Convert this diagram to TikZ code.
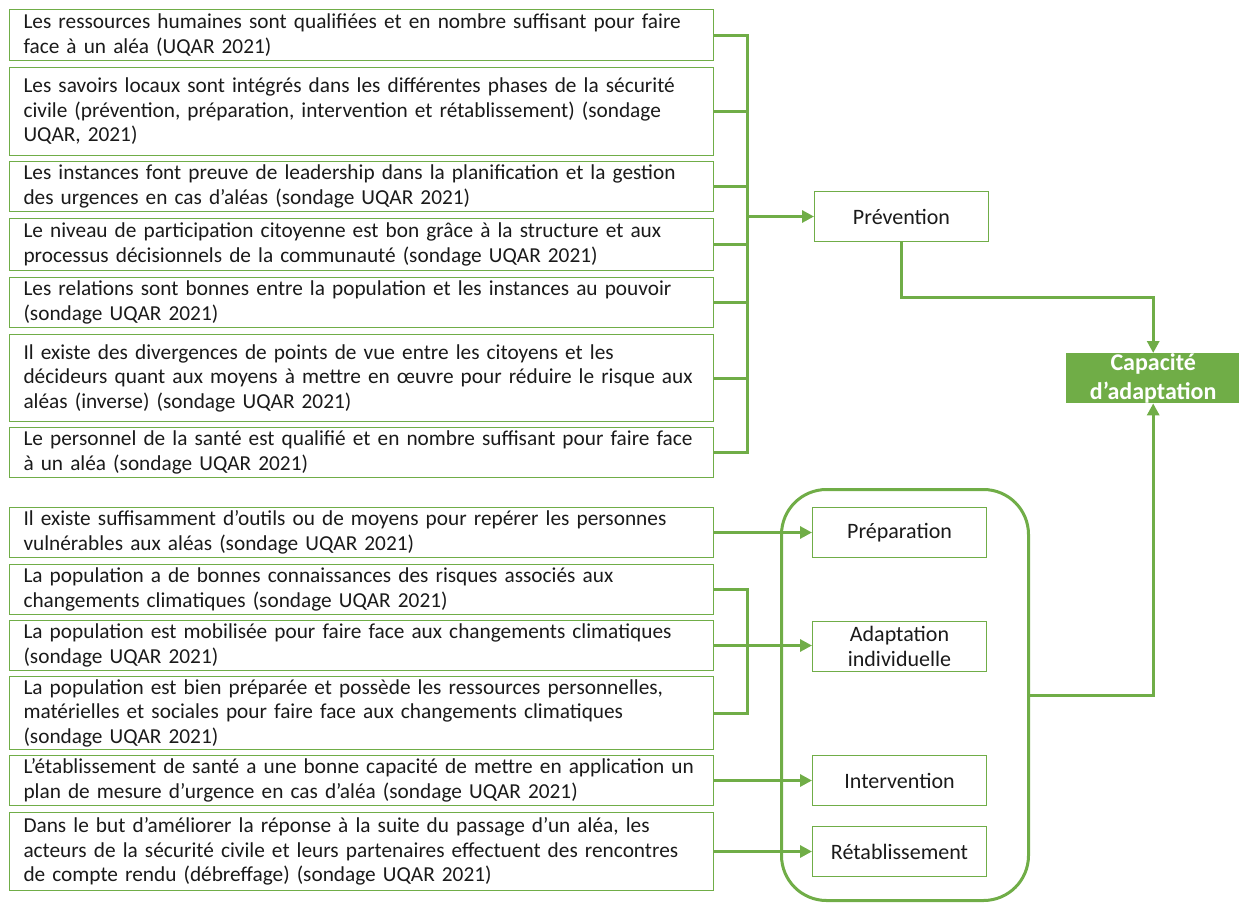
\documentclass[tikz,border=0pt]{standalone}
\usepackage{fontspec}
\setmainfont{Carlito}
\usetikzlibrary{arrows.meta}
\definecolor{ogreen}{HTML}{70AD47}
\definecolor{txt}{HTML}{1A1A1A}
\newcommand{\itemfont}{\fontsize{21.3}{24.5}\selectfont}
\newcommand{\phasefont}{\fontsize{22}{25}\selectfont}
\begin{document}
\begin{tikzpicture}[x=1pt,y=-1pt,
  item/.style={draw=ogreen, line width=1pt, anchor=north west, minimum width=704pt,
    text width=676pt, align=left, inner xsep=14pt, inner ysep=0pt, font=\itemfont, text=txt},
  phase/.style={draw=ogreen, line width=1pt, anchor=north west, minimum width=174pt,
    minimum height=50pt, align=center, inner sep=0pt, font=\phasefont, text=txt},
  link/.style={draw=ogreen, line width=3pt},
  arr/.style={link, -{Triangle[length=12pt,width=12pt]}}]
\useasboundingbox (0,0) rectangle (1239,902);
% left boxes, upper group
\node[item, minimum height=51pt] (b1) at (9,9) {\mbox{Les ressources humaines sont qualifiées et en nombre suffisant pour faire}\\\mbox{face à un aléa (UQAR 2021)}};
\node[item, minimum height=88pt] (b2) at (9,67) {\mbox{Les savoirs locaux sont intégrés dans les différentes phases de la sécurité}\\\mbox{civile (prévention, préparation, intervention et rétablissement) (sondage}\\\mbox{UQAR, 2021)}};
\node[item, minimum height=50pt] (b3) at (9,161) {\mbox{Les instances font preuve de leadership dans la planification et la gestion}\\\mbox{des urgences en cas d’aléas (sondage UQAR 2021)}};
\node[item, minimum height=52pt] (b4) at (9,218) {\mbox{Le niveau de participation citoyenne est bon grâce à la structure et aux}\\\mbox{processus décisionnels de la communauté (sondage UQAR 2021)}};
\node[item, minimum height=50pt] (b5) at (9,277) {\mbox{Les relations sont bonnes entre la population et les instances au pouvoir}\\\mbox{(sondage UQAR 2021)}};
\node[item, minimum height=87pt] (b6) at (9,334) {\mbox{Il existe des divergences de points de vue entre les citoyens et les}\\\mbox{décideurs quant aux moyens à mettre en œuvre pour réduire le risque aux}\\\mbox{aléas (inverse) (sondage UQAR 2021)}};
\node[item, minimum height=50pt] (b7) at (9,427) {\mbox{Le personnel de la santé est qualifié et en nombre suffisant pour faire face}\\\mbox{à un aléa (sondage UQAR 2021)}};
% left boxes, lower group
\node[item, minimum height=50pt] (b8) at (9,507) {\mbox{Il existe suffisamment d’outils ou de moyens pour repérer les personnes}\\\mbox{vulnérables aux aléas (sondage UQAR 2021)}};
\node[item, minimum height=50pt] (b9) at (9,564) {\mbox{La population a de bonnes connaissances des risques associés aux}\\\mbox{changements climatiques (sondage UQAR 2021)}};
\node[item, minimum height=50pt] (b10) at (9,620) {\mbox{La population est mobilisée pour faire face aux changements climatiques}\\\mbox{(sondage UQAR 2021)}};
\node[item, minimum height=73pt] (b11) at (9,676) {\mbox{La population est bien préparée et possède les ressources personnelles,}\\\mbox{matérielles et sociales pour faire face aux changements climatiques}\\\mbox{(sondage UQAR 2021)}};
\node[item, minimum height=50pt] (b12) at (9,755) {\mbox{L’établissement de santé a une bonne capacité de mettre en application un}\\\mbox{plan de mesure d’urgence en cas d’aléa (sondage UQAR 2021)}};
\node[item, minimum height=78pt] (b13) at (9,812) {\mbox{Dans le but d’améliorer la réponse à la suite du passage d’un aléa, les}\\\mbox{acteurs de la sécurité civile et leurs partenaires effectuent des rencontres}\\\mbox{de compte rendu (débreffage) (sondage UQAR 2021)}};
% right side
\node[phase] (prev) at (814,191) {Prévention};
\node[draw=ogreen, line width=3pt, rounded corners=45pt, anchor=north west,
  minimum width=247pt, minimum height=411pt, inner sep=0pt] (cont) at (780,488) {};
\node[phase] (prep) at (812,507) {Préparation};
\node[phase] (adap) at (812,621) {Adaptation\\individuelle};
\node[phase] (inter) at (812,755) {Intervention};
\node[phase] (reta) at (812,826) {Rétablissement};
\node[fill=ogreen, anchor=north west, minimum width=174pt, minimum height=50pt, inner sep=0pt,
  align=center, text=white, font=\fontsize{24}{29}\selectfont\bfseries] (cap) at (1066,353) {Capacité\\d’adaptation};
% coordinates
\coordinate (bus) at (747,0);
\coordinate (j1) at (0,297);
% upper bus
\draw[link] (b1.east) -- (b1.east -| bus) -- (b7.east -| bus) -- (b7.east);
\foreach \b in {b2,b3,b4,b5,b6} \draw[link] (\b.east) -- (\b.east -| bus);
\draw[arr] (prev.west -| bus) -- (prev.west);
\draw[arr] (prev.south) -- (prev.south |- j1) -| (cap.north);
% lower group
\draw[arr] (b8.east) -- (prep.west);
\draw[link] (b9.east) -- (b9.east -| bus) -- (b11.east -| bus) -- (b11.east);
\draw[arr] (b10.east) -- (b10.east -| adap.west);
\draw[arr] (b12.east) -- (b12.east -| inter.west);
\draw[arr] (b13.east) -- (b13.east -| reta.west);
\draw[arr] (cont.east) -| (cap.south);
\end{tikzpicture}
\end{document}
